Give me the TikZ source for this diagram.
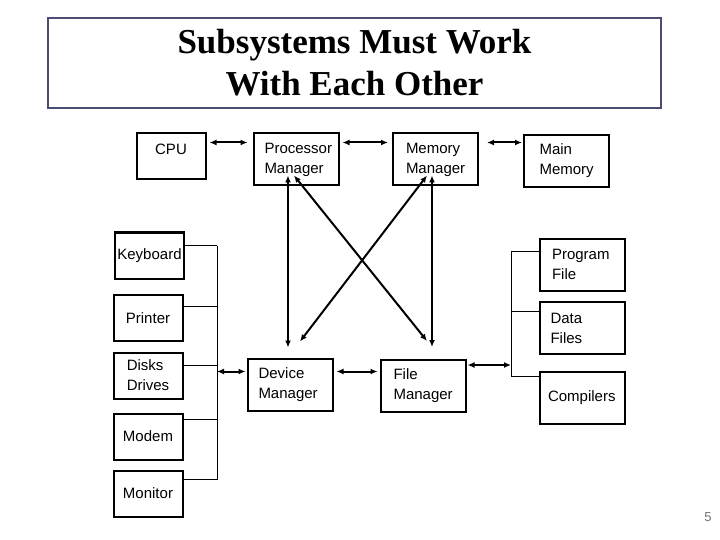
\documentclass[tikz,border=0pt]{standalone}
\usepackage{fontspec}
\setmainfont{Liberation Sans}
\newfontfamily\titlefont{Liberation Serif}
\usetikzlibrary{arrows.meta,calc}
\definecolor{FrameClr}{rgb}{0.3,0.3,0.45}
\definecolor{PageClr}{rgb}{0.45,0.45,0.45}

\begin{document}
\begin{tikzpicture}[x=1pt,y=-1pt,
  box/.style={draw,line width=2pt,align=left,inner sep=0pt,font=\fontsize{15}{20}\selectfont},
  narrow/.style={box,minimum width=69pt,minimum height=46pt},
  wide/.style={box,minimum width=85pt,minimum height=52pt,text width=63pt},
  dbl/.style={{Latex[length=7pt,width=6pt]}-{Latex[length=7pt,width=6pt]},line width=2pt},
  bus/.style={line width=0.9pt}]
\useasboundingbox (0,0) rectangle (720,540);

\node[draw=FrameClr,line width=1.2pt,minimum width=613pt,minimum height=90pt,inner sep=0pt,align=center,
  font=\titlefont\bfseries\fontsize{35}{42}\selectfont] (title) at (354.5,63) {Subsystems Must Work\\With Each Other};

\node[narrow,text depth=14pt] (cpu) at (171,156.5) {CPU};
\node[wide] (pm) at (296,159.5) {Processor\\Manager};
\node[wide,text width=59pt] (mm) at (435.5,159.5) {Memory\\Manager};
\node[wide,text width=54pt] (mainmem) at (566.5,161) {Main\\Memory};

\node[narrow] (kbd) at (149.5,255.5) {Keyboard};
\node[narrow] (prn) at (148,318) {Printer};
\node[narrow] (dsk) at (148,375.5) {Disks\\Drives};
\node[narrow] (mdm) at (148,436.5) {Modem};
\node[narrow] (mon) at (148,493.5) {Monitor};

\node[wide] (dm) at (290,384.5) {Device\\Manager};
\node[wide,text width=59pt] (fm) at (423,386) {File\\Manager};

\node[wide,text width=60pt] (prog) at (582,264.5) {Program\\File};
\node[wide] (data) at (582,328) {Data\\Files};
\node[wide,text width=68pt] (comp) at (582,397.5) {Compilers};

\node[font=\fontsize{13}{13}\selectfont,text=PageClr] (pg) at (708,517) {5};

\coordinate (lbus) at (217,0);
\coordinate (rbus) at (511,0);

\draw[dbl,shorten <=3pt,shorten >=5pt] ([yshift=-10pt]cpu.north east) -- ([yshift=-10pt]pm.north west);
\draw[dbl,shorten <=3pt,shorten >=4pt] ([yshift=-10pt]pm.north east) -- ([yshift=-10pt]mm.north west);
\draw[dbl,shorten <=8pt,shorten >=1pt] ([yshift=-10pt]mm.north east) -- ([yshift=-10pt]mm.north east -| mainmem.west);

\foreach \n/\d in {kbd/14,prn/12,dsk/14,mdm/7,mon/10}
  \draw[bus] ([yshift=-\d pt]\n.north east) -- ([yshift=-\d pt]\n.north east -| lbus);
\draw[bus] ([yshift=-14pt]kbd.north east -| lbus) -- ([yshift=-10pt]mon.north east -| lbus);

\foreach \n/\d in {prog/14,data/10,comp/6}
  \draw[bus] ([yshift=-\d pt]\n.north west) -- ([yshift=-\d pt]\n.north west -| rbus);
\draw[bus] ([yshift=-14pt]prog.north west -| rbus) -- ([yshift=-6pt]comp.north west -| rbus);

\draw[dbl,shorten >=1pt] ([yshift=-14pt]dm.north west -| lbus) -- ([yshift=-14pt]dm.north west);
\draw[dbl,shorten <=3pt,shorten >=2pt] ([yshift=-14pt]dm.north east) -- ([yshift=-14pt]dm.north east -| fm.west);
\draw[dbl,shorten <=1pt] ([yshift=-6pt]fm.north east) -- ([yshift=-6pt]fm.north east -| rbus);

\draw[dbl,shorten <=-11pt,shorten >=10pt] ([xshift=-8pt]pm.south) -- ([xshift=-8pt]pm.south |- dm.north);
\draw[dbl] ([xshift=-2pt,yshift=11pt]pm.south) -- ([xshift=4pt,yshift=18pt]fm.north);
\draw[dbl] ([xshift=-8.5pt,yshift=11pt]mm.south) -- ([xshift=10pt,yshift=16pt]dm.north);
\draw[dbl,shorten <=-11pt,shorten >=12pt] ([xshift=-3.5pt]mm.south) -- ([xshift=-3.5pt]mm.south |- fm.north);

\end{tikzpicture}
\end{document}
